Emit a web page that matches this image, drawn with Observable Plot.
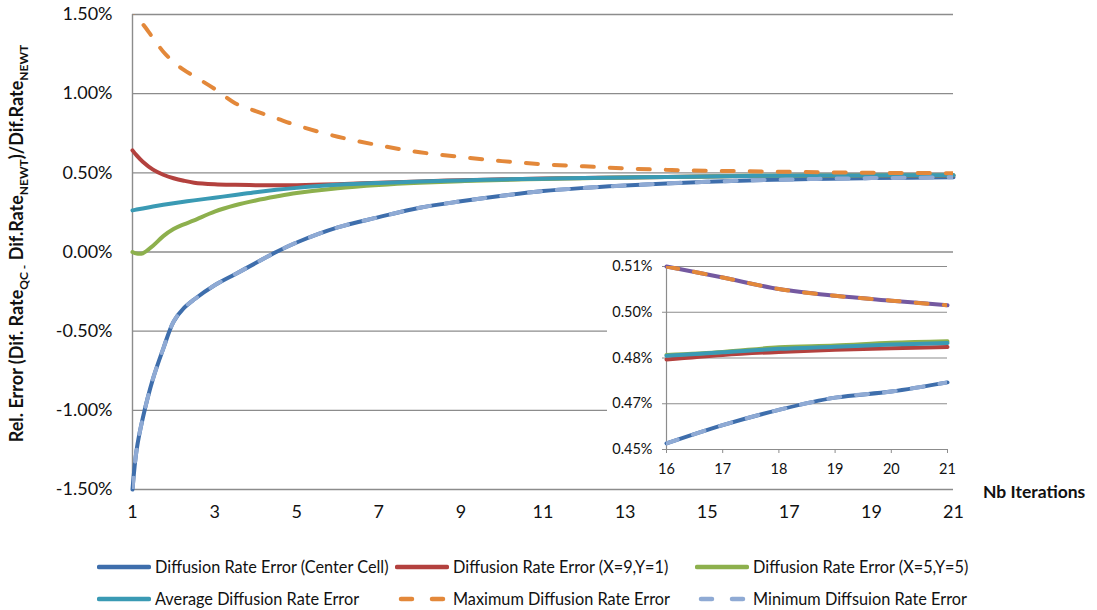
<!DOCTYPE html>
<html>
<head>
<meta charset="utf-8">
<script src="https://cdn.jsdelivr.net/npm/d3@7"></script>
<script src="https://cdn.jsdelivr.net/npm/@observablehq/plot@0.6"></script>
<style>
  html, body { margin: 0; padding: 0; background: #fff; }
  #chart { position: relative; width: 1097px; height: 610px; font-family: Lato, "Open Sans", sans-serif; }
  #inset { position: absolute; left: 607px; top: 253px; }
  .legend-item { position: absolute; display: flex; align-items: center; font-size: 16.3px; color: #111; white-space: nowrap; }
  .legend-item svg { margin-right: 4px; }
</style>
</head>
<body>
<div id="chart"></div>
<script>
// Iteration count (x) — denser sampling over the first iterations where curves bend sharply
const iterations = [1, 1.1, 1.25, 1.5, 1.75, 2, 2.25, 2.5, 3, 3.5, 4, 4.5, 5, 6, 7, 8, 9, 10, 11, 12, 13, 14, 15, 16, 17, 18, 19, 20, 21];

// Relative error series, in percent
const centerCell = [-1.50, -1.25, -1.05, -0.80, -0.61, -0.44, -0.355, -0.30, -0.21, -0.14, -0.07, 0.0, 0.06, 0.155, 0.22, 0.28, 0.32, 0.355, 0.385, 0.405, 0.42, 0.433, 0.443, 0.452, 0.458, 0.463, 0.467, 0.469, 0.472];
const cellX9Y1 = [0.642, 0.61, 0.57, 0.52, 0.488, 0.466, 0.45, 0.438, 0.428, 0.424, 0.422, 0.421, 0.422, 0.428, 0.437, 0.446, 0.453, 0.459, 0.464, 0.468, 0.471, 0.474, 0.477, 0.4795, 0.481, 0.482, 0.4827, 0.4832, 0.4836];
const cellX5Y5 = [0.0, -0.01, -0.008, 0.04, 0.10, 0.145, 0.175, 0.20, 0.255, 0.295, 0.325, 0.35, 0.372, 0.403, 0.423, 0.437, 0.447, 0.455, 0.461, 0.466, 0.47, 0.474, 0.477, 0.481, 0.482, 0.4835, 0.4841, 0.485, 0.4855];
const averageErr = [0.263, 0.268, 0.275, 0.287, 0.298, 0.308, 0.317, 0.326, 0.343, 0.36, 0.378, 0.393, 0.405, 0.424, 0.436, 0.445, 0.452, 0.458, 0.463, 0.467, 0.471, 0.474, 0.477, 0.4807, 0.4819, 0.483, 0.4837, 0.4844, 0.4849];
const maximumErr = [1.53, 1.49, 1.44, 1.352, 1.265, 1.20, 1.15, 1.11, 1.03, 0.94, 0.89, 0.845, 0.80, 0.728, 0.674, 0.63, 0.60, 0.574, 0.554, 0.541, 0.528, 0.519, 0.513, 0.510, 0.5064, 0.5026, 0.5004, 0.4988, 0.4973];
const minimumErr = centerCell.slice();

// Axis ticks
const yTicks = [-1.5, -1.0, -0.5, 0, 0.5, 1.0, 1.5];
const xTicks = [1, 3, 5, 7, 9, 11, 13, 15, 17, 19, 21];
const insetXTicks = [16, 17, 18, 19, 20, 21];
const insetYTicks = [0.45, 0.465, 0.48, 0.495, 0.51];
const insetYLabels = ["0.45%", "0.47%", "0.48%", "0.50%", "0.51%"];

// Series names and colours
const seriesNames = [
  "Diffusion Rate Error (Center Cell)",
  "Diffusion Rate Error (X=9,Y=1)",
  "Diffusion Rate Error (X=5,Y=5)",
  "Average Diffusion Rate Error",
  "Maximum Diffusion Rate Error",
  "Minimum Diffsuion Rate Error"
];
const seriesColors = ["#3E6EAC", "#B3413E", "#8DB04D", "#3A9AB4", "#E3883A", "#8FAAD4"];
const insetExtraColor = "#7459A0";

const rows = iterations.map((x, i) => ({
  x,
  center: centerCell[i],
  x9y1: cellX9Y1[i],
  x5y5: cellX5Y5[i],
  avg: averageErr[i],
  max: maximumErr[i],
  min: minimumErr[i]
}));
const insetRows = rows.filter(d => d.x >= 16);

const grid = "#8c8c8c";
const dash = {strokeDasharray: "12,16", strokeLinecap: "round"};

function seriesMarks(data, sw, withExtra) {
  const common = {x: "x", curve: "catmull-rom", strokeWidth: sw};
  const marks = [];
  if (withExtra) marks.push(Plot.line(data, {...common, y: "max", stroke: insetExtraColor}));
  marks.push(
    Plot.line(data, {...common, y: "center", stroke: seriesColors[0]}),
    Plot.line(data, {...common, y: "x9y1", stroke: seriesColors[1]}),
    Plot.line(data, {...common, y: "x5y5", stroke: seriesColors[2]}),
    Plot.line(data, {...common, y: "avg", stroke: seriesColors[3]}),
    Plot.line(data, {...common, ...dash, y: "max", stroke: seriesColors[4], clip: true, strokeDashoffset: withExtra ? 0 : 9}),
    Plot.line(data, {...common, ...dash, y: "min", stroke: seriesColors[5], clip: true})
  );
  return marks;
}

// Main chart
const W = 1097, H = 540;
const mL = 132, mR = 144, mT = 14, mB = 51;
const main = Plot.plot({
  width: W,
  height: H,
  marginLeft: mL, marginRight: mR, marginTop: mT, marginBottom: mB,
  x: {domain: [1, 21]},
  y: {domain: [-1.5, 1.5]},
  style: {fontFamily: "Lato, sans-serif", color: "#111", background: "white", overflow: "visible"},
  marks: [
    Plot.gridY(yTicks, {stroke: grid, strokeOpacity: 1, strokeWidth: 1.4}),
    Plot.ruleX([1], {stroke: grid, strokeWidth: 1.4}),
    Plot.axisY(yTicks, {tickSize: 0, tickPadding: 20, fontSize: 18, label: null, tickFormat: d => d.toFixed(2) + "%"}),
    Plot.axisX(xTicks, {tickSize: 0, tickPadding: 16, fontSize: 18, label: null}),
    ...seriesMarks(rows, 4, false)
  ]
});

// Axis titles with subscripts
const svg = d3.select(main);
const plotMidY = mT + (H - mT - mB) / 2 - 8;
const yTitle = svg.append("text")
  .attr("transform", `translate(23,${plotMidY}) rotate(-90)`)
  .attr("text-anchor", "middle")
  .attr("font-weight", "bold")
  .attr("font-size", 18)
  .attr("fill", "#111");
const parts = [
  ["Rel. Error (Dif. Rate", false],
  ["QC -", true],
  [" Dif.Rate", false],
  ["NEWT", true],
  [")/Dif.Rate", false],
  ["NEWT", true]
];
let lowered = false;
for (const [txt, sub] of parts) {
  const ts = yTitle.append("tspan").text(txt);
  if (sub && !lowered) { ts.attr("dy", 5).attr("font-size", 12); lowered = true; }
  else if (sub) { ts.attr("font-size", 12); }
  else if (lowered) { ts.attr("dy", -5); lowered = false; }
}
svg.append("text")
  .attr("x", W - mR + 30)
  .attr("y", H - mB + 9)
  .attr("text-anchor", "start")
  .attr("font-weight", "bold")
  .attr("font-size", 17.5)
  .attr("fill", "#111")
  .text("Nb Iterations");

const chart = document.getElementById("chart");
chart.appendChild(main);

// Zoomed view of the last iterations
const inset = Plot.plot({
  width: 353,
  height: 235,
  marginLeft: 59, marginRight: 13, marginTop: 13, marginBottom: 39,
  x: {domain: [16, 21]},
  y: {domain: [0.45, 0.51]},
  style: {fontFamily: "Lato, sans-serif", color: "#111", background: "white"},
  marks: [
    Plot.gridY(insetYTicks, {stroke: grid, strokeOpacity: 1, strokeWidth: 1.2, insetLeft: -4}),
    Plot.ruleX([16], {stroke: grid, strokeWidth: 1.2}),
    Plot.axisY(insetYTicks, {tickSize: 0, tickPadding: 14, fontSize: 14.5, label: null, tickFormat: (d, i) => insetYLabels[i]}),
    Plot.axisX(insetXTicks, {tickSize: 4, stroke: grid, tickPadding: 10, fontSize: 14.5, label: null}),
    ...seriesMarks(insetRows, 4, true)
  ]
});
inset.id = "inset";
chart.appendChild(inset);

// Legend: two rows of three entries
const legendCols = [97, 395, 695];
const legendRows = [557, 589];
seriesNames.forEach((name, i) => {
  const item = document.createElement("div");
  item.className = "legend-item";
  item.style.left = legendCols[i % 3] + "px";
  item.style.top = legendRows[Math.floor(i / 3)] + "px";
  const dashed = i >= 4;
  item.innerHTML =
    `<svg width="54" height="16"><line x1="${dashed ? 6 : 2}" y1="8" x2="${dashed ? 48 : 52}" y2="8" stroke="${seriesColors[i]}" stroke-width="4.5" stroke-linecap="round" ${dashed ? 'stroke-dasharray="11,20"' : ""}/></svg><span>${name}</span>`;
  chart.appendChild(item);
});
</script>
</body>
</html>
